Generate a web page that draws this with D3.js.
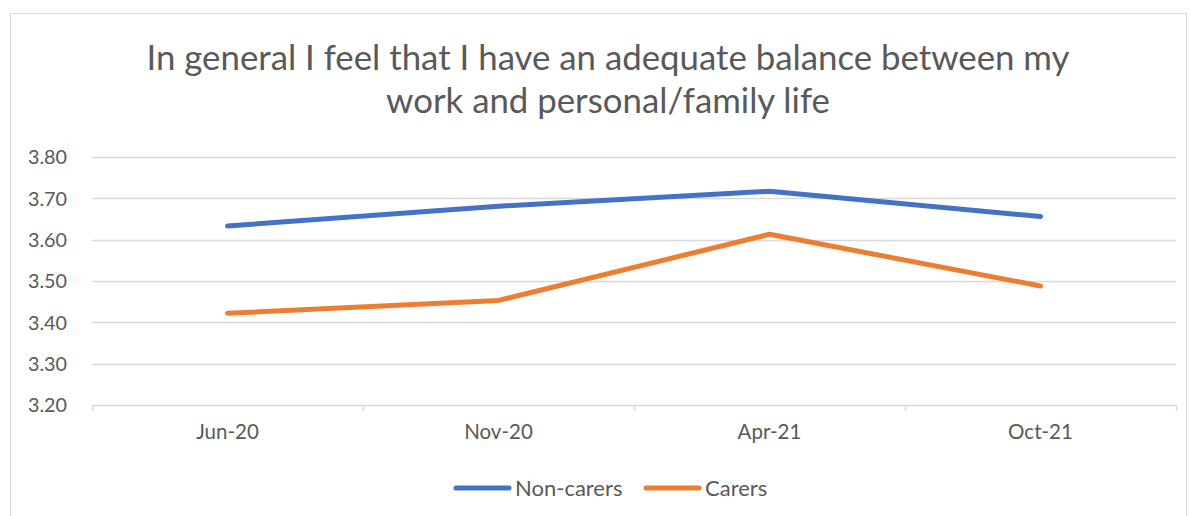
<!DOCTYPE html>
<html>
<head>
<meta charset="utf-8">
<script src="https://cdn.jsdelivr.net/npm/d3@7"></script>
<style>
  body { margin: 0; background: #fff; }
  svg text { font-family: Lato, "Open Sans", sans-serif; fill: #595959; }
</style>
</head>
<body>
<div id="chart"></div>
<script>
// data
var categories = ["Jun-20", "Nov-20", "Apr-21", "Oct-21"];
var nonCarers = [3.633, 3.681, 3.717, 3.656];
var carers = [3.422, 3.453, 3.613, 3.488];
var seriesNames = ["Non-carers", "Carers"];
var seriesColors = ["#4472C4", "#ED7D31"];
var yTicks = [3.2, 3.3, 3.4, 3.5, 3.6, 3.7, 3.8];
var titleLines = ["In general I feel that I have an adequate balance between my", "work and personal/family life"];

var W = 1190, H = 516;
var margin = {top: 157, right: 14, bottom: 111, left: 92},
    width = W - margin.left - margin.right,
    height = H - margin.top - margin.bottom;

var svg = d3.select("#chart")
    .append("svg")
    .attr("width", W)
    .attr("height", H);

// chart border
svg.append("rect")
    .attr("x", 10.5).attr("y", 13.5)
    .attr("width", 1176).attr("height", 520)
    .attr("fill", "none")
    .attr("stroke", "#d9d9d9");

// title
svg.append("g").selectAll("text")
    .data(titleLines)
    .enter()
    .append("text")
    .attr("x", 608)
    .attr("y", function(d, i){ return 70 + i * 43 })
    .attr("text-anchor", "middle")
    .style("font-size", "34.8px")
    .text(function(d){ return d });

var g = svg.append("g")
    .attr("transform", "translate(" + margin.left + "," + margin.top + ")");

var xScale = d3.scaleBand()
    .domain(categories)
    .range([0, width]);

var yScale = d3.scaleLinear()
    .domain([3.2, 3.8])
    .range([height, 0]);

//gridlines
g.append("g")
    .selectAll("line")
    .data(yTicks.slice(1))
    .enter()
    .append("line")
    .attr("x1", 0).attr("x2", width)
    .attr("y1", function(d){ return Math.round(yScale(d)) + 0.5 })
    .attr("y2", function(d){ return Math.round(yScale(d)) + 0.5 })
    .attr("stroke", "#d9d9d9")
    .attr("stroke-width", 1.5);

// y axis labels
var yAxis = g.append("g")
    .attr("transform", "translate(-22,0)")
    .call(d3.axisLeft(yScale).tickValues(yTicks).tickFormat(d3.format(".2f")).tickSize(0));
yAxis.select(".domain").remove();
yAxis.selectAll("text").style("font-size", "19.8px").attr("dy", "0.35em");

// x axis
var xAxis = g.append("g")
    .attr("transform", "translate(0," + height + ")")
    .call(d3.axisBottom(xScale).tickSize(0).tickPadding(24));
xAxis.select(".domain").attr("stroke", "#d9d9d9").attr("stroke-width", 1.5);
xAxis.selectAll("text").style("font-size", "20.5px").attr("dy", "0.5em");

// category boundary ticks
g.append("g")
    .selectAll("line")
    .data(d3.range(categories.length + 1))
    .enter()
    .append("line")
    .attr("x1", function(i){ return Math.round(i * xScale.step()) + 0.5 })
    .attr("x2", function(i){ return Math.round(i * xScale.step()) + 0.5 })
    .attr("y1", height).attr("y2", height + 6)
    .attr("stroke", "#d9d9d9")
    .attr("stroke-width", 1.5);

// lines
var line = d3.line()
    .x(function(d, i){ return xScale(categories[i]) + xScale.bandwidth() / 2 })
    .y(function(d){ return yScale(d) });

[nonCarers, carers].forEach(function(s, k){
    g.append("path")
        .datum(s)
        .attr("d", line)
        .attr("fill", "none")
        .attr("stroke", seriesColors[k])
        .attr("stroke-width", 5)
        .attr("stroke-linecap", "round")
        .attr("stroke-linejoin", "round");
});

// legend
var legendX = [456, 646];
var legend = svg.append("g").selectAll("g")
    .data(seriesNames)
    .enter()
    .append("g")
    .attr("transform", function(d, i){ return "translate(" + legendX[i] + ",488)" });

legend.append("line")
    .attr("x1", 0).attr("x2", 53)
    .attr("stroke", function(d, i){ return seriesColors[i] })
    .attr("stroke-width", 5)
    .attr("stroke-linecap", "round");

legend.append("text")
    .attr("x", 59)
    .attr("dy", "0.35em")
    .style("font-size", "22px")
    .text(function(d){ return d });
</script>
</body>
</html>
